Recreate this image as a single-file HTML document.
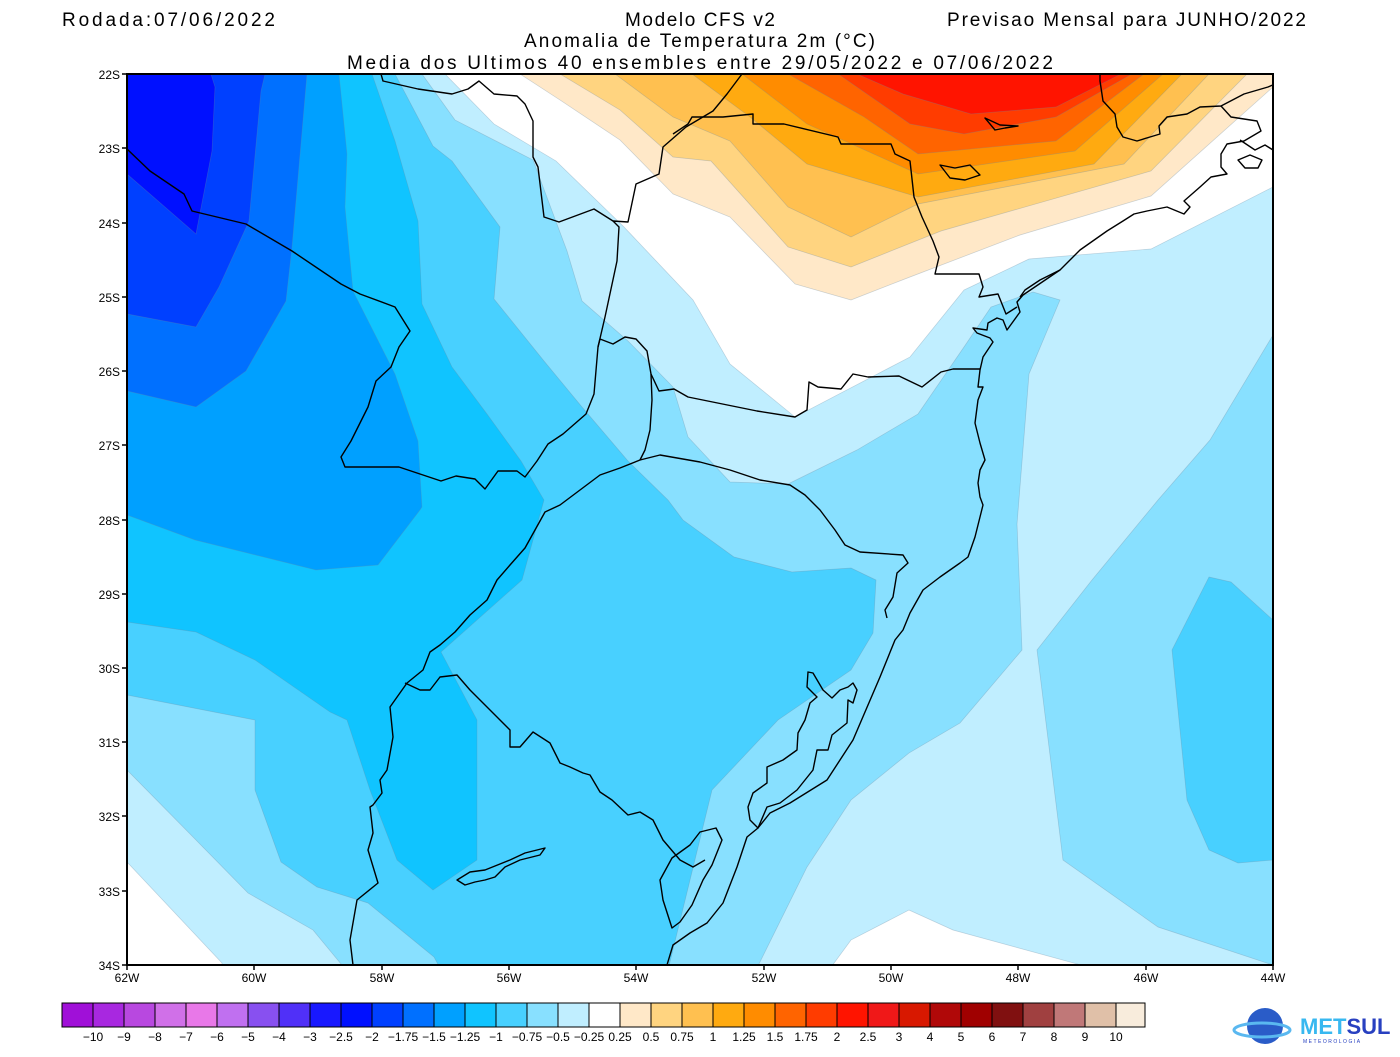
<!DOCTYPE html>
<html><head><meta charset="utf-8"><style>
html,body{margin:0;padding:0;background:#fff;}
body{width:1400px;height:1052px;overflow:hidden;font-family:"Liberation Sans",sans-serif;}
</style></head><body>
<svg width="1400" height="1052" viewBox="0 0 1400 1052" xmlns="http://www.w3.org/2000/svg" font-family="Liberation Sans, sans-serif">
<defs><clipPath id="c"><rect x="127" y="74" width="1146" height="891"/></clipPath></defs>
<g clip-path="url(#c)" stroke="#6a8aa0" stroke-opacity="0.35" stroke-width="0.7">
<rect x="127" y="74" width="1146" height="891" fill="#c0eeff" stroke="none"/>
<polygon fill="#fff" points="445,74 494,124 556,161 624,227 693,300 730,364 795,417 910,357 964,290 1029,259 1151,249 1273,187 1273,74"/>
<polygon fill="#fff" points="127,862 222,963 222,970 127,970"/>
<polygon fill="#fff" points="829,970 851,940 909,910 953,930 1092,968"/>
<polygon fill="#ffe8c8" points="520,74 560,100 620,140 673,194 730,217 795,284 851,300 910,277 1020,235 1151,196 1273,87 1273,74"/>
<polygon fill="#ffd480" points="560,74 620,110 673,157 711,161 788,247 851,267 941,231 1151,171 1247,74"/>
<polygon fill="#ffc050" points="615,74 673,117 730,141 788,207 851,237 918,204 1124,164 1209,74"/>
<polygon fill="#ffaa10" points="692,74 750,117 807,164 918,197 1094,164 1182,74"/>
<polygon fill="#ff8c00" points="742,74 807,124 918,174 1075,151 1163,74"/>
<polygon fill="#ff6400" points="788,74 864,117 918,154 1056,141 1144,74"/>
<polygon fill="#ff3c00" points="838,74 910,124 964,134 1056,117 1132,74"/>
<polygon fill="#ff1400" points="857,74 903,94 971,114 1056,107 1121,74"/>
<polygon fill="#88e0ff" points="127,74 422,74 455,120 533,160 567,251 582,301 628,341 673,387 688,437 730,482 788,484 857,450 918,414 964,347 991,307 1033,292 1060,300 1029,374 1017,524 1022,650 960,723 909,753 851,800 807,867 756,970 346,970 313,930 248,893 196,840 127,770"/>
<polygon fill="#88e0ff" points="1273,335 1210,440 1158,500 1092,580 1037,650 1063,860 1158,927 1273,965"/>
<polygon fill="#48d0ff" points="1209,577 1231,582 1273,620 1273,860 1238,863 1209,850 1187,800 1172,650"/>
<polygon fill="#48d0ff" points="127,74 395,74 433,146 452,161 500,227 494,299 544,361 582,407 628,461 668,500 683,520 734,557 792,572 851,568 876,580 873,633 851,670 778,720 712,790 668,970 441,970 434,957 368,903 317,887 281,862 255,790 255,720 127,695"/>
<polygon fill="#10c4ff" points="127,74 372,74 395,141 418,221 422,304 452,367 487,414 521,461 544,500 522,580 441,652 477,720 477,860 433,890 397,860 370,790 347,720 330,712 255,660 196,632 127,622"/>
<polygon fill="#00a0ff" points="127,74 339,74 347,154 345,207 353,291 395,374 418,441 422,507 420,510 378,565 316,570 195,540 127,515"/>
<polygon fill="#0070ff" points="127,74 307,74 292,247 286,301 246,371 196,407 127,391"/>
<polygon fill="#0040ff" points="127,74 265,74 261,91 249,221 219,287 196,327 127,314"/>
<polygon fill="#0010ff" points="127,74 211,74 215,87 212,151 196,234 127,174"/>
</g>
<g clip-path="url(#c)" fill="none" stroke="#000" stroke-width="1.4" stroke-linejoin="round">
<polyline points="127,149 150,171 184,194 192,211 246,224 292,251 341,284 360,294 395,307 410,331 399,347 391,367 376,381 368,407 351,441 341,457 345,467 399,467 441,481 456,476 475,479 485,489 498,471 517,471 525,477 537,461 548,444 563,434 586,414 594,394 598,347 605,317 617,261 619,227 613,221 628,222 636,184 659,174 663,147 686,127 713,111 727,94 742,74"/>
<polyline points="673,134 688,124 692,117 723,117 753,114 753,124 784,124 838,137 841,144 891,144 895,154 910,161 914,197 922,217 933,241 939,257 935,274 941,274 979,274 983,287 979,297 998,294 1006,314 1017,307"/>
<polyline points="381,74 383,81 418,89 452,94 468,89 479,81 494,94 517,96 525,104 533,121 533,157 538,167 544,217 559,222 594,209 613,221"/>
<polyline points="600,339 613,344 625,337 636,339 647,351 651,374 659,391 674,389 688,397 757,411 795,417 807,410 809,382 818,387 841,389 853,374 868,377 899,376 922,387 941,372 953,369 980,369"/>
<polyline points="600,339 598,347"/>
<polyline points="640,460 660,455 700,462 730,470 760,480 790,485 805,495 820,510 835,530 845,545 860,552 903,555 908,563 897,573 893,597 885,610 887,618"/>
<polyline points="651,374 652,400 650,430 645,450 640,460 620,468 600,475 580,490 560,505 545,512 535,530 525,548 510,565 497,580 487,600 470,615 455,632 440,645 430,652 423,670 407,683 390,707 393,737 387,770 380,780 382,793 373,805 370,807 373,833 368,850 378,883 357,900 350,940 353,965"/>
<polyline points="405,683 420,690 430,690 440,677 457,675 470,690 487,707 510,730 510,747 520,747 533,732 550,743 560,763 570,767 583,773 590,775 600,792 612,800 628,815 640,812 653,820 663,840 680,860 693,867 705,860"/>
<polyline points="1100,74 1100,81 1103,101 1115,114 1117,127 1123,137 1137,141 1150,137 1160,134 1159,126 1167,117 1187,114 1200,107 1221,106 1244,94 1268,87 1275,84"/>
<polyline points="1221,106 1231,117 1257,121 1261,131 1244,141 1227,144 1221,154 1221,167 1227,174 1211,177 1200,187 1184,201 1190,207 1184,214 1167,207 1147,211 1134,214 1123,221 1107,231 1080,250 1060,270 1023,295 1017,302 1020,312 1007,330 1003,320 997,318 988,323 987,330 973,328 977,333 990,338 993,342 983,357 980,370 978,387 983,387 978,400 975,423 980,443 985,460 980,470 978,483 980,497 983,505 980,517 975,537 968,557 960,563 940,577 923,590 910,613 903,630 895,640 880,677 853,740 827,780 790,803 770,813 758,828 747,837 737,867 723,903 707,923 690,933 673,945 667,965"/>
<polyline points="1060,270 1040,280 1025,290 1020,297"/>
<polyline points="1240,140 1255,150 1265,145 1273,150"/>
<polygon points="1238,160 1250,155 1262,160 1258,168 1245,168"/>
<polygon points="758,828 750,820 748,807 753,793 767,783 767,767 783,760 797,750 798,733 805,720 810,703 817,697 807,687 808,672 813,673 823,690 832,698 840,690 848,687 853,683 857,690 853,703 848,700 847,723 832,735 828,750 817,750 813,770 797,790 780,803 767,807"/>
<polygon points="663,900 660,880 672,858 690,845 700,832 716,828 722,840 712,865 703,880 692,905 680,922 672,928"/>
<polygon points="457,880 470,872 485,870 495,866 510,860 525,853 545,848 540,855 520,860 505,867 495,877 485,880 475,882 465,885"/>
<polygon points="985,118 1000,125 1018,126 1005,128 995,130"/>
<polygon points="940,165 955,168 970,165 980,175 965,180 950,178"/>
</g>
<rect x="127" y="74" width="1146" height="891" fill="none" stroke="#000" stroke-width="2"/>
<g stroke="#000" stroke-width="1.5">
<line x1="122" y1="74" x2="127" y2="74"/><line x1="122" y1="148" x2="127" y2="148"/><line x1="122" y1="223" x2="127" y2="223"/><line x1="122" y1="297" x2="127" y2="297"/><line x1="122" y1="371" x2="127" y2="371"/><line x1="122" y1="445" x2="127" y2="445"/><line x1="122" y1="520" x2="127" y2="520"/><line x1="122" y1="594" x2="127" y2="594"/><line x1="122" y1="668" x2="127" y2="668"/><line x1="122" y1="742" x2="127" y2="742"/><line x1="122" y1="816" x2="127" y2="816"/><line x1="122" y1="891" x2="127" y2="891"/><line x1="122" y1="965" x2="127" y2="965"/>
<line x1="127" y1="965" x2="127" y2="970"/><line x1="254" y1="965" x2="254" y2="970"/><line x1="382" y1="965" x2="382" y2="970"/><line x1="509" y1="965" x2="509" y2="970"/><line x1="636" y1="965" x2="636" y2="970"/><line x1="764" y1="965" x2="764" y2="970"/><line x1="891" y1="965" x2="891" y2="970"/><line x1="1018" y1="965" x2="1018" y2="970"/><line x1="1146" y1="965" x2="1146" y2="970"/><line x1="1273" y1="965" x2="1273" y2="970"/>
</g>
<g font-size="12" text-anchor="end" fill="#000">
<text x="120" y="79">22S</text><text x="120" y="153">23S</text><text x="120" y="228">24S</text><text x="120" y="302">25S</text><text x="120" y="376">26S</text><text x="120" y="450">27S</text><text x="120" y="525">28S</text><text x="120" y="599">29S</text><text x="120" y="673">30S</text><text x="120" y="747">31S</text><text x="120" y="821">32S</text><text x="120" y="896">33S</text><text x="120" y="970">34S</text>
</g>
<g font-size="12" text-anchor="middle" fill="#000">
<text x="127" y="982">62W</text><text x="254" y="982">60W</text><text x="382" y="982">58W</text><text x="509" y="982">56W</text><text x="636" y="982">54W</text><text x="764" y="982">52W</text><text x="891" y="982">50W</text><text x="1018" y="982">48W</text><text x="1146" y="982">46W</text><text x="1273" y="982">44W</text>
</g>
<g font-size="19" fill="#000" lengthAdjust="spacing">
<text x="62" y="26" textLength="213">Rodada:07/06/2022</text>
<text x="625" y="26" textLength="150">Modelo CFS v2</text>
<text x="947" y="26" textLength="359">Previsao Mensal para JUNHO/2022</text>
<text x="524" y="47" textLength="351">Anomalia de Temperatura 2m (°C)</text>
<text x="347" y="69" textLength="706">Media dos Ultimos 40 ensembles entre 29/05/2022 e 07/06/2022</text>
</g>
<g stroke="#000" stroke-width="1">
<rect x="62" y="1003" width="31" height="24" fill="#a010d8"/><rect x="93" y="1003" width="31" height="24" fill="#a828e0"/><rect x="124" y="1003" width="31" height="24" fill="#b848e0"/><rect x="155" y="1003" width="31" height="24" fill="#d070e8"/><rect x="186" y="1003" width="31" height="24" fill="#e878e8"/><rect x="217" y="1003" width="31" height="24" fill="#c070f0"/><rect x="248" y="1003" width="31" height="24" fill="#8850f0"/><rect x="279" y="1003" width="31" height="24" fill="#5030f8"/><rect x="310" y="1003" width="31" height="24" fill="#1818ff"/><rect x="341" y="1003" width="31" height="24" fill="#0010ff"/><rect x="372" y="1003" width="31" height="24" fill="#0040ff"/><rect x="403" y="1003" width="31" height="24" fill="#0070ff"/><rect x="434" y="1003" width="31" height="24" fill="#00a0ff"/><rect x="465" y="1003" width="31" height="24" fill="#10c4ff"/><rect x="496" y="1003" width="31" height="24" fill="#48d0ff"/><rect x="527" y="1003" width="31" height="24" fill="#88e0ff"/><rect x="558" y="1003" width="31" height="24" fill="#c0eeff"/><rect x="589" y="1003" width="31" height="24" fill="#ffffff"/><rect x="620" y="1003" width="31" height="24" fill="#ffe8c8"/><rect x="651" y="1003" width="31" height="24" fill="#ffd480"/><rect x="682" y="1003" width="31" height="24" fill="#ffc050"/><rect x="713" y="1003" width="31" height="24" fill="#ffaa10"/><rect x="744" y="1003" width="31" height="24" fill="#ff8c00"/><rect x="775" y="1003" width="31" height="24" fill="#ff6400"/><rect x="806" y="1003" width="31" height="24" fill="#ff3c00"/><rect x="837" y="1003" width="31" height="24" fill="#ff1400"/><rect x="868" y="1003" width="31" height="24" fill="#f01818"/><rect x="899" y="1003" width="31" height="24" fill="#d81800"/><rect x="930" y="1003" width="31" height="24" fill="#b00808"/><rect x="961" y="1003" width="31" height="24" fill="#a00000"/><rect x="992" y="1003" width="31" height="24" fill="#801010"/><rect x="1023" y="1003" width="31" height="24" fill="#a04040"/><rect x="1054" y="1003" width="31" height="24" fill="#c07878"/><rect x="1085" y="1003" width="31" height="24" fill="#e0c0a8"/><rect x="1116" y="1003" width="29" height="24" fill="#f8ecdc"/>
</g>
<g font-size="12" text-anchor="middle" fill="#000">
<text x="93" y="1041">−10</text><text x="124" y="1041">−9</text><text x="155" y="1041">−8</text><text x="186" y="1041">−7</text><text x="217" y="1041">−6</text><text x="248" y="1041">−5</text><text x="279" y="1041">−4</text><text x="310" y="1041">−3</text><text x="341" y="1041">−2.5</text><text x="372" y="1041">−2</text><text x="403" y="1041">−1.75</text><text x="434" y="1041">−1.5</text><text x="465" y="1041">−1.25</text><text x="496" y="1041">−1</text><text x="527" y="1041">−0.75</text><text x="558" y="1041">−0.5</text><text x="589" y="1041">−0.25</text><text x="620" y="1041">0.25</text><text x="651" y="1041">0.5</text><text x="682" y="1041">0.75</text><text x="713" y="1041">1</text><text x="744" y="1041">1.25</text><text x="775" y="1041">1.5</text><text x="806" y="1041">1.75</text><text x="837" y="1041">2</text><text x="868" y="1041">2.5</text><text x="899" y="1041">3</text><text x="930" y="1041">4</text><text x="961" y="1041">5</text><text x="992" y="1041">6</text><text x="1023" y="1041">7</text><text x="1054" y="1041">8</text><text x="1085" y="1041">9</text><text x="1116" y="1041">10</text>
</g>
<g>
<circle cx="1265" cy="1026" r="18" fill="#2a5cc8"/>
<ellipse cx="1262" cy="1030" rx="28" ry="7" fill="none" stroke="#5ab8f0" stroke-width="3"/>
<text x="1300" y="1034" font-size="22" font-weight="bold" fill="#38b8f0">MET<tspan fill="#2840c0">SUL</tspan></text>
<text x="1303" y="1043" font-size="5" fill="#2840c0" letter-spacing="1.5">METEOROLOGIA</text>
</g>
</svg>
</body></html>
